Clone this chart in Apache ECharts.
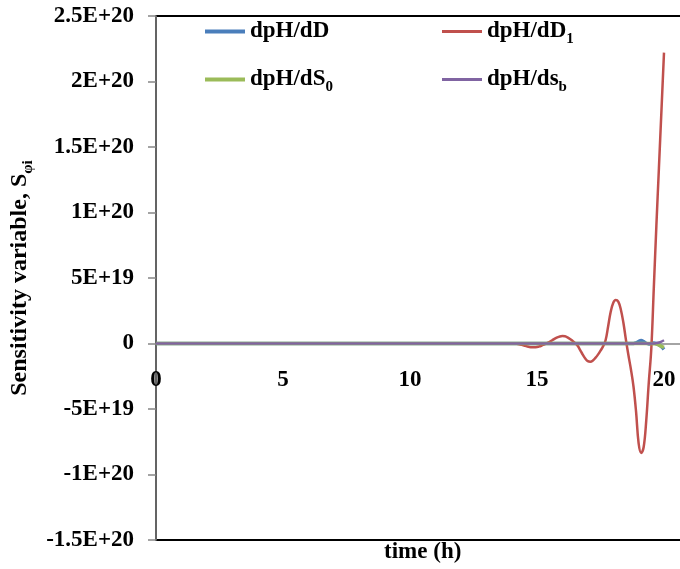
<!DOCTYPE html>
<html>
<head>
<meta charset="utf-8">
<script src="https://cdn.jsdelivr.net/npm/echarts@6/dist/echarts.min.js"></script>
<style>
  html, body { margin: 0; padding: 0; background: #fff; }
  #chart { width: 680px; height: 569px; }
</style>
</head>
<body>
<div id="chart"></div>
<script>
// Sensitivity of pH to the model parameters over time (values in units of 1E+19)
const hours = [
  0, 1, 2, 3, 4, 5, 6, 7, 8, 9, 10, 11, 12, 13,
  14.0, 14.1, 14.2, 14.3, 14.4, 14.5, 14.6, 14.7, 14.8, 14.9,
  15.0, 15.1, 15.2, 15.3, 15.4, 15.5, 15.6, 15.7, 15.8, 15.9,
  16.0, 16.1, 16.2, 16.3, 16.4, 16.5, 16.6, 16.7, 16.8, 16.9,
  17.0, 17.1, 17.2, 17.3, 17.4, 17.5, 17.6, 17.7, 17.8, 17.9,
  18.0, 18.1, 18.2, 18.3, 18.4, 18.5, 18.6, 18.7, 18.8, 18.9,
  19.0, 19.1, 19.2, 19.3, 19.4, 19.5, 19.6, 19.7, 19.8, 19.9,
  20.0
];

const dpH_dD = [
  0, 0, 0, 0, 0, 0, 0, 0, 0, 0, 0, 0, 0, 0,
  0, 0, 0, 0, 0, 0, 0, 0, 0, 0,
  0, 0, 0, 0, 0, 0, 0, 0, 0, 0,
  0, 0, 0, 0, 0, 0, 0, 0, 0, 0,
  0, 0, 0, 0, 0, 0, 0, 0, 0, 0,
  0, 0, 0, 0, 0, 0, 0, 0, 0, 0.05,
  0.15, 0.22, 0.14, 0.02, -0.03, 0, 0.03, 0, -0.1, -0.25,
  -0.45
];

const dpH_dD1 = [
  0, 0, 0, 0, 0, 0, 0, 0, 0, 0, 0, 0, 0, 0,
  0, -0.01, -0.02, -0.05, -0.1, -0.16, -0.22, -0.27, -0.29, -0.29,
  -0.27, -0.22, -0.14, -0.06, 0.03, 0.13, 0.25, 0.37, 0.47, 0.54,
  0.57, 0.55, 0.47, 0.35, 0.2, 0.03, -0.18, -0.5, -0.85, -1.15,
  -1.35, -1.39, -1.3, -1.1, -0.85, -0.55, -0.22, 0.25, 1.3, 2.4,
  3.1, 3.32, 3.2, 2.6, 1.6, 0.3, -0.9, -2.0, -3.3, -5.2,
  -7.6, -8.35, -7.9, -5.9, -3.0, -0.4, 4.3, 9.0, 13.4, 17.8,
  22.2
];

const dpH_dS0 = [
  0, 0, 0, 0, 0, 0, 0, 0, 0, 0, 0, 0, 0, 0,
  0, 0, 0, 0, 0, 0, 0, 0, 0, 0,
  0, 0, 0, 0, 0, 0, 0, 0, 0, 0,
  0, 0, 0, 0, 0, 0, 0, 0, 0, 0,
  0, 0, 0, 0, 0, 0, 0, 0, 0, 0,
  0, 0, 0, 0, 0, 0, 0, 0, 0, 0,
  0, 0, 0, 0, 0, 0, -0.02, -0.05, -0.12, -0.22,
  -0.3
];

const dpH_dsb = [
  0, 0, 0, 0, 0, 0, 0, 0, 0, 0, 0, 0, 0, 0,
  0, 0, 0, 0, 0, 0, 0, 0, 0, 0,
  0, 0, 0, 0, 0, 0, 0, 0, 0, 0,
  0, 0, 0, 0, 0, 0, 0, 0, 0, 0,
  0, 0, 0, 0, 0, 0, 0, 0, 0, 0,
  0, 0, 0, 0, 0, 0, 0, 0, 0, 0,
  0, 0, 0, 0, 0, 0, 0, 0.03, 0.08, 0.15,
  0.25
];

const seriesNames = ['dpH/dD', 'dpH/dD1', 'dpH/dS0', 'dpH/dsb'];
const legendText = {
  'dpH/dD': 'dpH/dD',
  'dpH/dD1': 'dpH/dD{sub|1}',
  'dpH/dS0': 'dpH/dS{sub|0}',
  'dpH/dsb': 'dpH/ds{sub|b}'
};
const colors = ['#4a7ebb', '#c0504d', '#9bbb59', '#8064a2'];

const yMin = -15, yMax = 25, yStep = 5;
const yTickLabels = ['-1.5E+20', '-1E+20', '-5E+19', '0', '5E+19', '1E+20', '1.5E+20', '2E+20', '2.5E+20'];
const xMin = 0, xMax = 21, xStep = 5;

const FONT = "'Liberation Serif', 'Times New Roman', serif";
const subStyle = { fontFamily: FONT, fontWeight: 'bold', fontSize: 15, lineHeight: 15, color: '#000', verticalAlign: 'top', padding: [12, 0, 0, 0] };

// plot box geometry
const GRID_TOP = 16, GRID_BOTTOM = 29, CHART_H = 569;
const plotH = CHART_H - GRID_TOP - GRID_BOTTOM;
// distance from the bottom of the plot up to the zero line
const zeroLift = plotH * (0 - yMin) / (yMax - yMin);

function pairs(values) {
  return hours.map((t, i) => [t, values[i]]);
}

const seriesValues = [dpH_dD, dpH_dD1, dpH_dS0, dpH_dsb];
const lineWidths = [3.5, 2.5, 3.5, 2.5];

function legendFor(name, left, top, h) {
  return {
    data: [name],
    left: left, top: top,
    padding: 0,
    icon: 'rect',
    itemWidth: 40,
    itemHeight: h,
    itemGap: 0,
    selectedMode: false,
    formatter: n => legendText[n],
    textStyle: {
      fontFamily: FONT, fontWeight: 'bold', fontSize: 23, color: '#000', lineHeight: 23,
      rich: { sub: subStyle }
    }
  };
}

const chart = echarts.init(document.getElementById('chart'), null, { renderer: 'canvas' });
chart.setOption({
  animation: false,
  backgroundColor: '#fff',
  grid: {
    left: 156, top: GRID_TOP, right: -9.4, bottom: GRID_BOTTOM,
    outerBoundsMode: 'none', containLabel: false,
    show: true, borderColor: '#000', borderWidth: 2, backgroundColor: 'transparent'
  },
  legend: [
    legendFor('dpH/dD', 205, 20, 4),
    legendFor('dpH/dD1', 442, 20, 3),
    legendFor('dpH/dS0', 205, 68, 4),
    legendFor('dpH/dsb', 442, 68, 3)
  ],
  xAxis: {
    type: 'value', min: xMin, max: xMax, interval: xStep,
    position: 'bottom', offset: -zeroLift,
    axisLine: { onZero: false, lineStyle: { color: '#868686', width: 1.5 } },
    axisTick: { show: false },
    splitLine: { show: false },
    axisLabel: {
      showMaxLabel: false, margin: 25,
      fontFamily: FONT, fontWeight: 'bold', fontSize: 23, color: '#000'
    },
    name: 'time (h)', nameLocation: 'middle', nameGap: zeroLift + 1,
    nameTextStyle: { fontFamily: FONT, fontWeight: 'bold', fontSize: 23, color: '#000' }
  },
  yAxis: {
    type: 'value', min: yMin, max: yMax, interval: yStep,
    axisLine: { show: true, lineStyle: { color: '#868686', width: 1.5 } },
    axisTick: { show: true, inside: false, length: 8, lineStyle: { color: '#868686', width: 1.5 } },
    splitLine: { show: false },
    axisLabel: {
      margin: 22,
      fontFamily: FONT, fontWeight: 'bold', fontSize: 23, color: '#000',
      formatter: v => yTickLabels[Math.round((v - yMin) / yStep)]
    },
    name: 'Sensitivity variable, S{sub|φi}',
    nameLocation: 'middle', nameRotate: 90, nameGap: 122,
    nameTextStyle: {
      fontFamily: FONT, fontWeight: 'bold', fontSize: 24, color: '#000', lineHeight: 24,
      rich: { sub: Object.assign({}, subStyle, { fontSize: 15, padding: [12, 0, 0, 0] }) }
    }
  },
  series: seriesNames.map((name, i) => ({
    name: name,
    type: 'line',
    data: pairs(seriesValues[i]),
    smooth: 0.4,
    symbol: 'none',
    color: colors[i],
    lineStyle: { color: colors[i], width: lineWidths[i] },
    z: 2 + i
  }))
});
</script>
</body>
</html>
